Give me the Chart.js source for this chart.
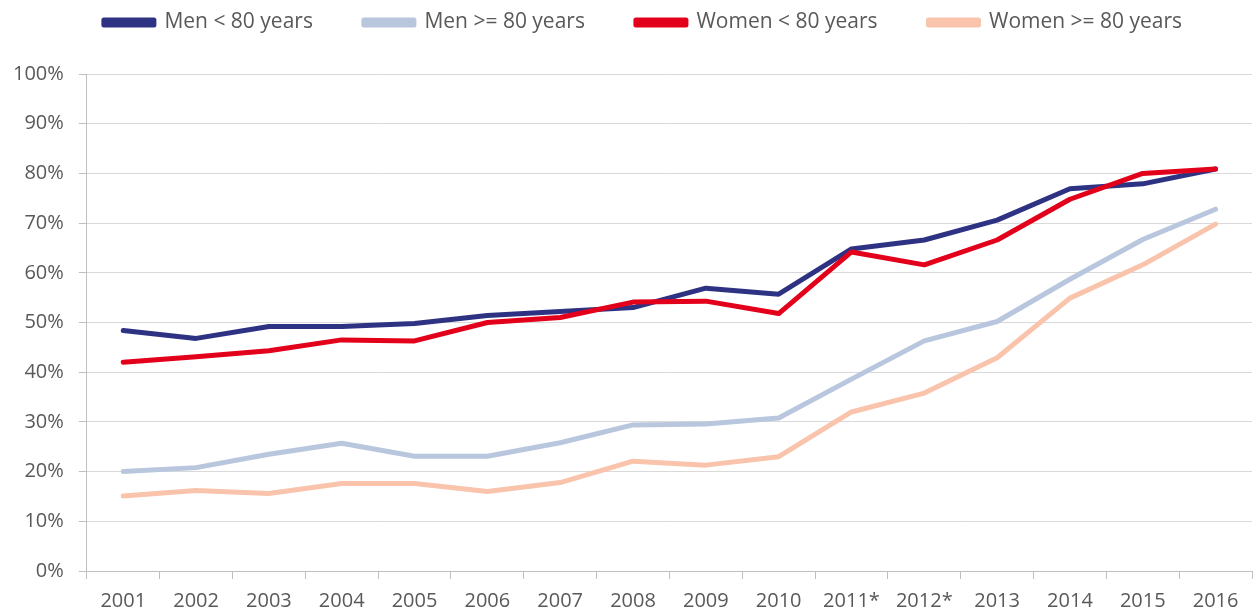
<!DOCTYPE html>
<html lang="en">

<head>
    <meta charset="UTF-8">
    <title>Men / Women by age group 2001-2016</title>
    <style>
        body { margin: 0; background: #fff; }
        .grafico { width: 1254px; height: 615px; }
    </style>
</head>

<body>
    <div class="grafico">
        <canvas id="myChartCanvas"></canvas>
    </div>

    <script src="https://cdn.jsdelivr.net/npm/chart.js"></script>

    <script>
        // dados (%)
        const anos = ['2001', '2002', '2003', '2004', '2005', '2006', '2007', '2008',
            '2009', '2010', '2011*', '2012*', '2013', '2014', '2015', '2016'];
        const menUnder80 = [48.4, 46.8, 49.2, 49.2, 49.8, 51.4, 52.2, 53.0, 56.9, 55.7, 64.8, 66.6, 70.6, 76.9, 77.9, 80.9];
        const menOver80 = [20.0, 20.8, 23.5, 25.7, 23.1, 23.1, 25.8, 29.4, 29.6, 30.8, 38.6, 46.3, 50.2, 58.7, 66.7, 72.8];
        const womenUnder80 = [42.0, 43.1, 44.3, 46.5, 46.3, 50.0, 51.0, 54.1, 54.3, 51.8, 64.2, 61.6, 66.6, 74.8, 80.0, 80.9];
        const womenOver80 = [15.1, 16.2, 15.6, 17.6, 17.6, 16.0, 17.8, 22.1, 21.3, 23.0, 32.0, 35.8, 42.9, 54.9, 61.6, 69.8];
        const yTicks = [0, 10, 20, 30, 40, 50, 60, 70, 80, 90, 100];

        const cinza = '#595959';

        function serie(label, data, cor, ordem) {
            return {
                label: label,
                data: data,
                borderColor: cor,
                backgroundColor: cor,
                borderWidth: 5,
                borderCapStyle: 'round',
                borderJoinStyle: 'round',
                pointRadius: 0,
                tension: 0,
                order: ordem
            };
        }

        // espaço entre legenda e gráfico + pequeno deslocamento horizontal da legenda
        const legendaEspaco = {
            id: 'legendaEspaco',
            beforeInit(chart) {
                const fitOriginal = chart.legend.fit;
                chart.legend.fit = function () {
                    fitOriginal.bind(chart.legend)();
                    this.height += 31;
                };
            },
            afterLayout(chart) {
                chart.legend.left += 18;
                chart.legend.right += 18;
            }
        };

        const ctx = document.getElementById('myChartCanvas').getContext('2d');

        new Chart(ctx, {
            type: 'line',
            data: {
                labels: anos,
                datasets: [
                    serie('Men < 80 years', menUnder80, '#2E3283', 1),
                    serie('Men >= 80 years', menOver80, '#B8C6DE', 3),
                    serie('Women < 80 years', womenUnder80, '#E3001B', 0),
                    serie('Women >= 80 years', womenOver80, '#F9C4AB', 2)
                ]
            },
            options: {
                responsive: true,
                maintainAspectRatio: false,
                animation: false,
                layout: {
                    padding: { top: -39, left: -2, right: 2, bottom: -8 }
                },
                plugins: {
                    tooltip: { enabled: false },
                    legend: {
                        position: 'top',
                        labels: {
                            boxWidth: 50,
                            boxHeight: 5,
                            padding: 51,
                            color: cinza,
                            font: { family: 'Open Sans', size: 21 },
                            sort: (a, b) => a.datasetIndex - b.datasetIndex
                        }
                    }
                },
                scales: {
                    x: {
                        offset: true,
                        grid: {
                            offset: true,
                            drawOnChartArea: false,
                            tickLength: 8,
                            tickColor: '#BFBFBF'
                        },
                        border: { color: '#BFBFBF' },
                        ticks: {
                            color: cinza,
                            padding: 10,
                            maxRotation: 0,
                            autoSkip: false,
                            font: { family: 'Open Sans', size: 20 }
                        }
                    },
                    y: {
                        min: 0,
                        max: 100,
                        afterBuildTicks: (scale) => {
                            scale.ticks = yTicks.map(v => ({ value: v }));
                        },
                        grid: {
                            color: '#D9D9D9',
                            tickColor: '#BFBFBF',
                            tickLength: 8
                        },
                        border: { color: '#BFBFBF' },
                        ticks: {
                            color: cinza,
                            padding: 15,
                            font: { family: 'Open Sans', size: 20 },
                            callback: (v) => v + '%'
                        }
                    }
                }
            },
            plugins: [legendaEspaco]
        });
    </script>
</body>

</html>
